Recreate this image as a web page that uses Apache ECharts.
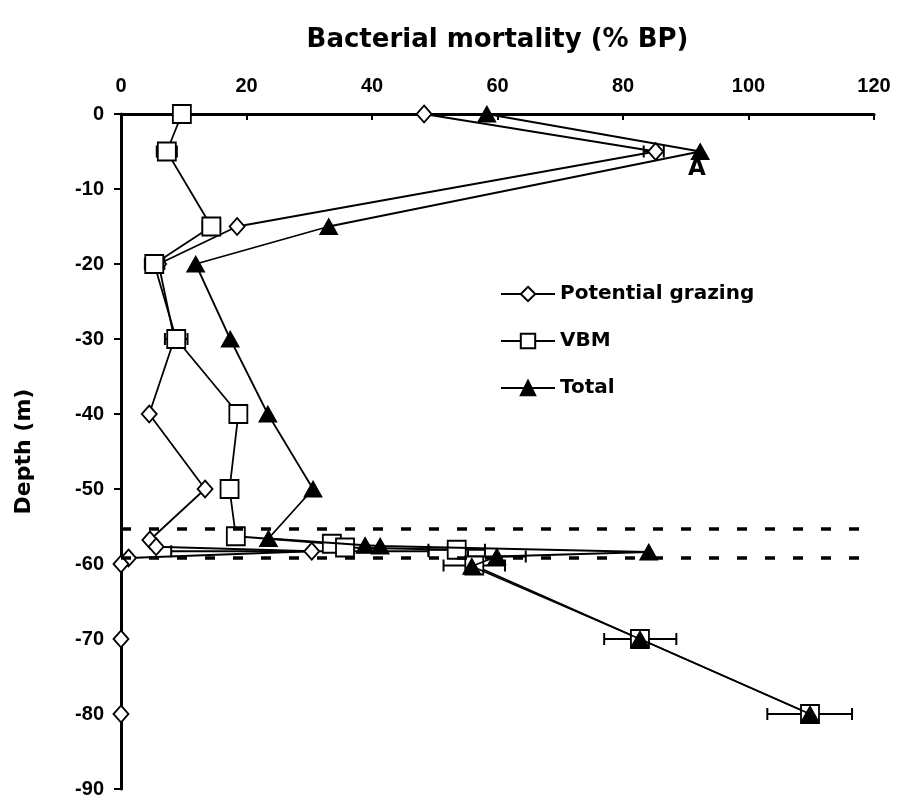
<!DOCTYPE html>
<html>
<head>
<meta charset="utf-8">
<script src="https://cdn.jsdelivr.net/npm/echarts@6/dist/echarts.min.js"></script>
<style>
  html, body { margin: 0; padding: 0; background: #fff; }
  #chart { width: 898px; height: 800px; }
</style>
</head>
<body>
<div id="chart"></div>
<script>
// Depth profiles of bacterial mortality (% of bacterial production)
const xTicks = [0, 20, 40, 60, 80, 100, 120];
const yTicks = [0, -10, -20, -30, -40, -50, -60, -70, -80, -90];

const grazingDepth = [0, -5, -15, -20, -30, -40, -50, -56.8, -57.7, -58.3, -59.2, -60, -70, -80];
const grazingValue = [48.3, 85.2, 18.5, 6.0, 8.5, 4.5, 13.4, 4.6, 5.6, 30.4, 1.2, 0, 0, 0];

const vbmDepth = [0, -5, -15, -20, -30, -40, -50, -56.3, -57.3, -57.8, -58.1, -60.2, -70, -80];
const vbmValue = [9.7, 7.3, 14.4, 5.3, 8.8, 18.7, 17.3, 18.3, 33.6, 35.7, 53.5, 56.3, 82.7, 109.8];

const totalDepth = [0, -5, -15, -20, -30, -40, -50, -56.6, -57.5, -57.6, -58.4, -59.0, -60.3, -70, -80];
const totalValue = [58.3, 92.3, 33.1, 11.9, 17.4, 23.4, 30.6, 23.5, 38.9, 41.3, 84.1, 59.9, 55.9, 82.7, 109.8];

// error bars: [depth, low, high]
const grazingErr = [[-5, 83.3, 86.5], [-58.3, 8.0, 49.0]];
const vbmErr = [[-5, 5.7, 8.9], [-15, 13.0, 15.8], [-20, 3.8, 6.9], [-30, 7.0, 10.6],
                [-58.1, 49.0, 58.0], [-60.2, 51.4, 61.2], [-70, 77.0, 88.5], [-80, 103.0, 116.5]];
const totalErr = [[-59.0, 55.3, 64.5]];

// boundary layer limits (dashed)
const layerDepths = [-55.3, -59.2];

function pairs(xs, ys) { return xs.map((x, i) => [x, ys[i]]); }

const chart = echarts.init(document.getElementById('chart'), null, { renderer: 'canvas' });
const FONT = '"DejaVu Sans", Verdana, sans-serif';
const TICK_FONT = '"Liberation Sans", Arial, sans-serif';

function errSeries(data) {
  return {
    type: 'custom',
    data: data,
    z: 1,
    silent: true,
    encode: { x: [1, 2], y: 0 },
    renderItem: function (params, api) {
      const y = api.value(0);
      const a = api.coord([api.value(1), y]);
      const b = api.coord([api.value(2), y]);
      const h = 6;
      const st = { stroke: '#000', lineWidth: 2 };
      return {
        type: 'group',
        children: [
          { type: 'line', shape: { x1: a[0], y1: a[1], x2: b[0], y2: b[1] }, style: st },
          { type: 'line', shape: { x1: a[0], y1: a[1] - h, x2: a[0], y2: a[1] + h }, style: st },
          { type: 'line', shape: { x1: b[0], y1: b[1] - h, x2: b[0], y2: b[1] + h }, style: st }
        ]
      };
    }
  };
}

const lineStyle = { color: '#000', width: 1.8 };

chart.setOption({
  animation: false,
  backgroundColor: '#fff',
  textStyle: { fontFamily: FONT },
  grid: { left: 121, right: 24, top: 114, bottom: 11 },
  xAxis: {
    type: 'value', position: 'top', min: 0, max: 120, interval: 20,
    name: 'Bacterial mortality (% BP)', nameLocation: 'middle', nameGap: 61,
    nameTextStyle: { fontFamily: FONT, fontWeight: 'bold', fontSize: 26, color: '#000' },
    axisLine: { show: true, onZero: false, lineStyle: { color: '#000', width: 3 } },
    axisTick: { show: true, inside: true, length: 6, lineStyle: { color: '#000', width: 2 } },
    axisLabel: { fontFamily: TICK_FONT, fontWeight: 'bold', fontSize: 20, color: '#000', margin: 18,
                 formatter: v => xTicks.includes(v) ? String(v) : '' },
    splitLine: { show: false }
  },
  yAxis: {
    type: 'value', min: -90, max: 0, interval: 10,
    name: 'Depth (m)', nameLocation: 'middle', nameGap: 86, nameRotate: 90,
    nameTextStyle: { fontFamily: FONT, fontWeight: 'bold', fontSize: 22, color: '#000' },
    axisLine: { show: true, onZero: false, lineStyle: { color: '#000', width: 3 } },
    axisTick: { show: true, inside: false, length: 7, lineStyle: { color: '#000', width: 2 } },
    axisLabel: { fontFamily: TICK_FONT, fontWeight: 'bold', fontSize: 20, color: '#000', margin: 17,
                 formatter: v => yTicks.includes(v) ? String(v) : '' },
    splitLine: { show: false }
  },
  legend: {
    orient: 'vertical', left: 495, top: 279, itemWidth: 54, itemHeight: 18, itemGap: 27,
    textStyle: { fontFamily: FONT, fontWeight: 'bold', fontSize: 20, color: '#000', lineHeight: 20 },
    data: ['Potential grazing', 'VBM', 'Total']
  },
  graphic: [
    { type: 'text', left: 688, top: 158, style: { text: 'A', font: 'bold 23px ' + FONT, fill: '#000' } }
  ],
  series: [
    errSeries(grazingErr),
    errSeries(vbmErr),
    errSeries(totalErr),
    {
      name: 'Potential grazing', type: 'line', data: pairs(grazingValue, grazingDepth),
      symbol: 'diamond', symbolSize: [15, 17], showAllSymbol: true,
      itemStyle: { color: '#fff', borderColor: '#000', borderWidth: 1.8 },
      lineStyle: lineStyle, z: 3,
      markLine: {
        silent: true, symbol: ['none', 'none'], label: { show: false },
        lineStyle: { color: '#000', width: 3.5, type: [10, 18] },
        data: layerDepths.map(d => ({ yAxis: d }))
      }
    },
    {
      name: 'VBM', type: 'line', data: pairs(vbmValue, vbmDepth),
      symbol: 'rect', symbolSize: 18, showAllSymbol: true,
      itemStyle: { color: '#fff', borderColor: '#000', borderWidth: 1.8 },
      lineStyle: lineStyle, z: 4
    },
    {
      name: 'Total', type: 'line', data: pairs(totalValue, totalDepth),
      symbol: 'triangle', symbolSize: [18, 16], showAllSymbol: true,
      itemStyle: { color: '#000', borderColor: '#000', borderWidth: 1 },
      lineStyle: lineStyle, z: 5
    }
  ]
});
</script>
</body>
</html>
